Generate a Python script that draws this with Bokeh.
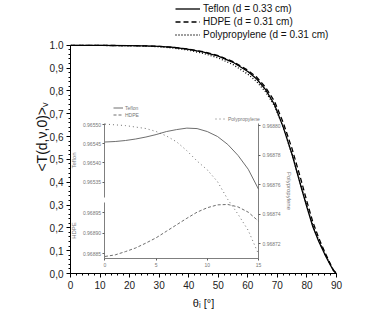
from bokeh.plotting import figure
from bokeh.models import (Range1d, LinearAxis, Legend, LegendItem, FixedTicker,
                          PrintfTickFormatter)
from bokeh.embed import file_html
from bokeh.resources import INLINE

# ---------------- data ----------------
theta = [0, 10, 20, 25, 30, 35, 40, 45, 50, 55, 60, 63, 66, 69, 72, 75, 78, 80, 82, 84, 86, 88, 89, 90]
T_teflon = [0.999, 0.999, 0.998, 0.997, 0.995, 0.990, 0.982, 0.970, 0.952, 0.925, 0.885, 0.852,
            0.805, 0.740, 0.640, 0.520, 0.380, 0.290, 0.205, 0.140, 0.085, 0.035, 0.012, 0.0]
T_hdpe = [0.999, 0.999, 0.998, 0.997, 0.995, 0.990, 0.983, 0.971, 0.954, 0.928, 0.890, 0.860,
          0.815, 0.755, 0.660, 0.545, 0.410, 0.315, 0.225, 0.155, 0.095, 0.040, 0.014, 0.0]
T_pp = [0.999, 0.999, 0.997, 0.996, 0.993, 0.987, 0.978, 0.964, 0.944, 0.915, 0.873, 0.840,
        0.795, 0.735, 0.640, 0.520, 0.385, 0.295, 0.210, 0.145, 0.088, 0.037, 0.013, 0.0]

inset_theta = [0, 1, 2, 3, 4, 5, 6, 7, 8, 9, 10, 11, 12, 13, 14, 15]
inset_teflon = [0.9654547, 0.9654560, 0.9654586, 0.9654625, 0.9654677, 0.9654741, 0.9654819, 0.9654871,
                0.9654909, 0.9654897, 0.9654819, 0.9654690, 0.9654483, 0.9654198, 0.9653836, 0.9653319]
inset_hdpe = [0.968843, 0.968847, 0.968855, 0.968864, 0.968876, 0.968889, 0.968905, 0.968921,
              0.968937, 0.968952, 0.968963, 0.968970, 0.968971, 0.968965, 0.968952, 0.968930]
inset_pp = [0.9688010, 0.9688005, 0.9688000, 0.9687990, 0.9687980, 0.9687960, 0.9687930, 0.9687890,
            0.9687830, 0.9687760, 0.9687700, 0.9687620, 0.9687500, 0.9687400, 0.9687290, 0.9687130]

y_ticks = [0.0, 0.1, 0.2, 0.3, 0.4, 0.5, 0.6, 0.7, 0.8, 0.9, 1.0]
y_tick_labels = ["0,0", "0,1", "0,2", "0,3", "0,4", "0,5", "0,6", "0,7", "0,8", "0,9", "1.0"]
x_ticks = [0, 10, 20, 30, 40, 50, 60, 70, 80, 90]
inset_x_ticks = [0, 5, 10, 15]
teflon_ticks = [0.96535, 0.96540, 0.96545, 0.96550]
hdpe_ticks = [0.96885, 0.96890, 0.96895]
pp_ticks = [0.96872, 0.96874, 0.96876, 0.96878, 0.96880]

legend_labels = ["Teflon (d = 0.33 cm)", "HDPE (d = 0.31 cm)", "Polypropylene (d = 0.31 cm)"]

# ---------------- layout constants ----------------
TOP_ROOM = 45 / 230              # head-room above 1.0 (legend lives there)
INSET_X = (11.67, 63.6)          # where inset theta 0 and 15 sit
INSET_BOTTOM = 0.0652
INSET_TOP = 0.657
BREAK_LOW, BREAK_HIGH = 0.313, 0.335
TEF_ANCHOR = ((0.96535, 0.400), (0.96550, 0.652))
HD_ANCHOR = ((0.96885, 0.087), (0.96895, 0.265))
PP_ANCHOR = ((0.96872, 0.1304), (0.96880, 0.6478))
Y_END = 1 + TOP_ROOM

FONT = "Liberation Sans"
GRAY = "#5e5e5e"


def mapped_range(anchor):
    (v0, y0), (v1, y1) = anchor
    k = (v1 - v0) / (y1 - y0)
    return Range1d(v0 - y0 * k, v0 + (Y_END - y0) * k), (lambda y: v0 + (y - y0) * k)


p = figure(width=380, height=311, x_range=Range1d(0, 90), y_range=Range1d(0, Y_END),
           output_backend="svg", toolbar_location=None,
           min_border_left=70, min_border_right=44, min_border_top=0, min_border_bottom=36)
p.outline_line_color = None
p.xgrid.visible = False
p.ygrid.visible = False
p.background_fill_color = "white"

# inset ranges
k_ix = 15.0 / (INSET_X[1] - INSET_X[0])
p.extra_x_ranges = {"ix": Range1d(-INSET_X[0] * k_ix, (90 - INSET_X[0]) * k_ix)}
tef_range, tef_v = mapped_range(TEF_ANCHOR)
hd_range, hd_v = mapped_range(HD_ANCHOR)
pp_range, pp_v = mapped_range(PP_ANCHOR)
p.extra_y_ranges = {"tef": tef_range, "hd": hd_range, "pp": pp_range}

# main axes styling
for ax in (p.xaxis[0], p.yaxis[0]):
    ax.axis_line_color = "black"
    ax.major_tick_line_color = "black"
    ax.minor_tick_line_color = "black"
    ax.major_tick_out = 4
    ax.major_tick_in = 0
    ax.minor_tick_out = 2
    ax.minor_tick_in = 0
    ax.major_label_text_font = FONT
    ax.major_label_text_font_size = "10px"
    ax.major_label_text_color = "#222222"
    ax.axis_label_text_font = FONT
    ax.axis_label_text_font_style = "normal"
    ax.axis_label_text_color = "#111111"

p.xaxis[0].ticker = FixedTicker(ticks=x_ticks, minor_ticks=list(range(0, 91, 2)))
p.xaxis[0].axis_label = "θᵢ [°]"
p.xaxis[0].axis_label_text_font_size = "11px"
p.xaxis[0].major_label_standoff = 3
p.xaxis[0].axis_label_standoff = 5

p.yaxis[0].ticker = FixedTicker(ticks=y_ticks, minor_ticks=[i / 50 for i in range(51)])
p.yaxis[0].bounds = (0, 1)
p.yaxis[0].major_label_overrides = {t: s for t, s in zip(y_ticks, y_tick_labels)}
p.yaxis[0].axis_label = "<T(d,ν,0)>ᵥ"
p.yaxis[0].axis_label_text_font_size = "14px"
p.yaxis[0].major_label_standoff = 3
p.yaxis[0].axis_label_standoff = -3

# main curves
r_tef = p.line(theta, T_teflon, line_color="black", line_width=1.3)
r_hd = p.line(theta, T_hdpe, line_color="black", line_width=1.3, line_dash="5 3")
r_pp = p.line(theta, T_pp, line_color="black", line_width=1.3, line_dash="1 2")

leg = Legend(items=[LegendItem(label=legend_labels[0], renderers=[r_tef]),
                    LegendItem(label=legend_labels[1], renderers=[r_hd]),
                    LegendItem(label=legend_labels[2], renderers=[r_pp])],
             location=(105, 232), orientation="vertical",
             label_text_font=FONT, label_text_font_size="10px", label_text_color="#111111",
             glyph_width=25, glyph_height=13, label_height=13, label_standoff=3,
             spacing=0, padding=0, margin=0,
             border_line_color=None, background_fill_alpha=0)
p.add_layout(leg)

# inset curves
i_tef = p.line(inset_theta, inset_teflon, x_range_name="ix", y_range_name="tef",
               line_color=GRAY, line_width=0.9)
i_hd = p.line(inset_theta, inset_hdpe, x_range_name="ix", y_range_name="hd",
              line_color=GRAY, line_width=0.9, line_dash="3 2")
i_pp = p.line(inset_theta, inset_pp, x_range_name="ix", y_range_name="pp",
              line_color=GRAY, line_width=0.9, line_dash="1 3")


def style_inset(ax):
    ax.axis_line_color = GRAY
    ax.axis_line_width = 0.8
    ax.major_tick_line_color = GRAY
    ax.major_tick_out = 2
    ax.major_tick_in = 0
    ax.minor_tick_line_color = None
    ax.major_label_text_font = FONT
    ax.major_label_text_font_size = "5px"
    ax.major_label_text_color = "#777777"
    ax.major_label_standoff = 2
    ax.axis_label_text_font = FONT
    ax.axis_label_text_font_size = "6px"
    ax.axis_label_text_font_style = "normal"
    ax.axis_label_text_color = "#777777"
    ax.axis_label_standoff = 2


ix_axis = LinearAxis(x_range_name="ix", fixed_location=INSET_BOTTOM, bounds=(0, 15),
                     ticker=FixedTicker(ticks=inset_x_ticks))
style_inset(ix_axis)
p.add_layout(ix_axis, "below")

tef_axis = LinearAxis(x_range_name="ix", y_range_name="tef", fixed_location=0,
                      bounds=(tef_v(BREAK_HIGH), tef_v(INSET_TOP)),
                      ticker=FixedTicker(ticks=teflon_ticks),
                      formatter=PrintfTickFormatter(format="%.5f"), axis_label="Teflon")
style_inset(tef_axis)
p.add_layout(tef_axis, "left")

hd_axis = LinearAxis(x_range_name="ix", y_range_name="hd", fixed_location=0,
                     bounds=(hd_v(INSET_BOTTOM), hd_v(BREAK_LOW)),
                     ticker=FixedTicker(ticks=hdpe_ticks),
                     formatter=PrintfTickFormatter(format="%.5f"), axis_label="HDPE")
style_inset(hd_axis)
p.add_layout(hd_axis, "left")

pp_axis = LinearAxis(x_range_name="ix", y_range_name="pp", fixed_location=15,
                     bounds=(pp_v(INSET_BOTTOM), pp_v(INSET_TOP)),
                     ticker=FixedTicker(ticks=pp_ticks),
                     formatter=PrintfTickFormatter(format="%.5f"), axis_label="Polypropylene")
style_inset(pp_axis)
p.add_layout(pp_axis, "right")

# inset legends
leg_a = Legend(items=[LegendItem(label="Teflon", renderers=[i_tef]),
                      LegendItem(label="HDPE", renderers=[i_hd])],
               location=(43, 155), label_text_font=FONT, label_text_font_size="5px",
               label_text_color="#777777", glyph_width=10, glyph_height=7, label_height=7,
               label_standoff=2, spacing=0, padding=0, margin=0,
               border_line_color=None, background_fill_alpha=0)
p.add_layout(leg_a)
leg_b = Legend(items=[LegendItem(label="Polypropylene", renderers=[i_pp])],
               location=(145, 151), label_text_font=FONT, label_text_font_size="5px",
               label_text_color="#777777", glyph_width=11, glyph_height=7, label_height=7,
               label_standoff=2, spacing=0, padding=0, margin=0,
               border_line_color=None, background_fill_alpha=0)
p.add_layout(leg_b)

open("out.html", "w").write(file_html(p, INLINE))
